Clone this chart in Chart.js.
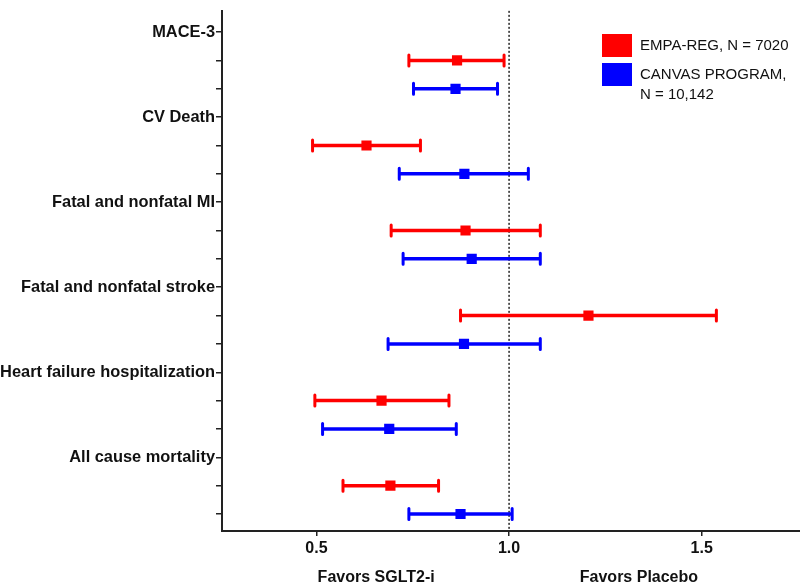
<!DOCTYPE html>
<html>
<head>
<meta charset="utf-8">
<script src="https://cdn.jsdelivr.net/npm/chart.js"></script>
<style>
  body { margin: 0; background: #fff; }
  canvas { display: block; }
</style>
</head>
<body>
<canvas id="forest" width="800" height="585"></canvas>
<script>
// outcome names (one label row each, then one row per trial)
const categories = ['MACE-3', 'CV Death', 'Fatal and nonfatal MI', 'Fatal and nonfatal stroke',
    'Heart failure hospitalization', 'All cause mortality']

// EMPA-REG hazard ratios with 95% CI
const empaHR = [0.865, 0.63, 0.887, 1.206, 0.669, 0.692]
const empaLo = [0.74, 0.49, 0.694, 0.874, 0.496, 0.569]
const empaHi = [0.987, 0.77, 1.081, 1.538, 0.844, 0.817]

// CANVAS PROGRAM hazard ratios with 95% CI
const canvasHR = [0.861, 0.884, 0.903, 0.883, 0.689, 0.874]
const canvasLo = [0.752, 0.715, 0.725, 0.686, 0.516, 0.74]
const canvasHi = [0.97, 1.05, 1.081, 1.081, 0.863, 1.008]

const xTicks = [0.5, 1.0, 1.5]
const legendLabels = [['EMPA-REG, N = 7020'], ['CANVAS PROGRAM,', 'N = 10,142']]

const RED = '#ff0000'
const BLUE = '#0000ff'
const FONT = '"Liberation Sans", Arial, sans-serif'

Chart.defaults.font.family = FONT
Chart.defaults.color = '#111'

const rowCount = categories.length * 3
const toPoints = (hr, lo, hi, offset) => hr.map((v, i) => ({x: v, y: i * 3 + offset, lo: lo[i], hi: hi[i]}))

// error bars, dotted null line, legend and footer labels
const forestPlugin = {
    id: 'forest',
    beforeDatasetsDraw(chart) {
        const {ctx, chartArea, scales: {x, y}} = chart
        // null line at HR = 1
        ctx.save()
        ctx.strokeStyle = '#222'
        ctx.lineWidth = 1.5
        ctx.setLineDash([2, 2])
        ctx.beginPath()
        ctx.moveTo(x.getPixelForValue(1), chartArea.top)
        ctx.lineTo(x.getPixelForValue(1), chartArea.bottom)
        ctx.stroke()
        ctx.restore()

        chart.data.datasets.forEach(ds => {
            ctx.save()
            ctx.strokeStyle = ds.backgroundColor
            ds.data.forEach(p => {
                const py = y.getPixelForValue(p.y)
                const x0 = x.getPixelForValue(p.lo)
                const x1 = x.getPixelForValue(p.hi)
                ctx.lineWidth = 3.5
                ctx.lineCap = 'butt'
                ctx.beginPath()
                ctx.moveTo(x0, py)
                ctx.lineTo(x1, py)
                ctx.stroke()
                ctx.lineWidth = 3
                ctx.lineCap = 'round'
                ctx.beginPath()
                ctx.moveTo(x0, py - 5.5)
                ctx.lineTo(x0, py + 5.5)
                ctx.moveTo(x1, py - 5.5)
                ctx.lineTo(x1, py + 5.5)
                ctx.stroke()
            })
            ctx.restore()
        })
    },
    afterDraw(chart) {
        const {ctx, scales: {x}} = chart
        ctx.save()
        // legend
        const colors = [RED, BLUE]
        ctx.font = '15px ' + FONT
        ctx.textBaseline = 'middle'
        ctx.textAlign = 'left'
        legendLabels.forEach((lines, i) => {
            const top = 34 + i * 29
            ctx.fillStyle = colors[i]
            ctx.fillRect(602, top, 30, 23)
            ctx.fillStyle = '#111'
            lines.forEach((t, j) => ctx.fillText(t, 640, top + 12 + j * 20))
        })
        // footer
        ctx.font = 'bold 16px ' + FONT
        ctx.textAlign = 'center'
        ctx.fillText('Favors SGLT2-i', x.getPixelForValue(0.655), 578)
        ctx.fillText('Favors Placebo', x.getPixelForValue(1.337), 578)
        ctx.restore()
    }
}

new Chart(document.getElementById('forest'), {
    type: 'scatter',
    data: {
        datasets: [
            {label: 'EMPA-REG', data: toPoints(empaHR, empaLo, empaHi, 1), backgroundColor: RED, borderWidth: 0,
             pointStyle: 'rect', pointRadius: 7.2},
            {label: 'CANVAS PROGRAM', data: toPoints(canvasHR, canvasLo, canvasHi, 2), backgroundColor: BLUE, borderWidth: 0,
             pointStyle: 'rect', pointRadius: 7.2}
        ]
    },
    options: {
        responsive: false,
        animation: false,
        layout: {autoPadding: false, padding: {top: 10, right: 0, left: 0, bottom: 0}},
        plugins: {legend: {display: false}, tooltip: {enabled: false}},
        scales: {
            x: {
                type: 'linear', min: 0.255, max: 1.755,
                afterBuildTicks: s => { s.ticks = xTicks.map(v => ({value: v})) },
                afterFit: s => { s.height = 54; s.paddingLeft = 0; s.paddingRight = 0 },
                grid: {display: true, drawOnChartArea: false, drawTicks: true, tickLength: 5, color: '#222', lineWidth: 1.5},
                border: {display: true, color: '#222', width: 2},
                ticks: {padding: 3, color: '#111', font: {size: 16, weight: 'bold'},
                        callback: v => v.toFixed(1)}
            },
            y: {
                type: 'linear', reverse: true, min: -0.75, max: 17.6,
                afterBuildTicks: s => { s.ticks = Array.from({length: rowCount}, (_, i) => ({value: i})) },
                afterFit: s => { s.width = 222 },
                grid: {display: true, drawOnChartArea: false, drawTicks: true, tickLength: 6, color: '#222', lineWidth: 1.5},
                border: {display: true, color: '#222', width: 2},
                ticks: {padding: 1, color: '#111', font: {size: 16.4, weight: 'bold'},
                        callback: v => (v % 3 === 0 ? categories[v / 3] : '')}
            }
        }
    },
    plugins: [forestPlugin]
})
</script>
</body>
</html>
